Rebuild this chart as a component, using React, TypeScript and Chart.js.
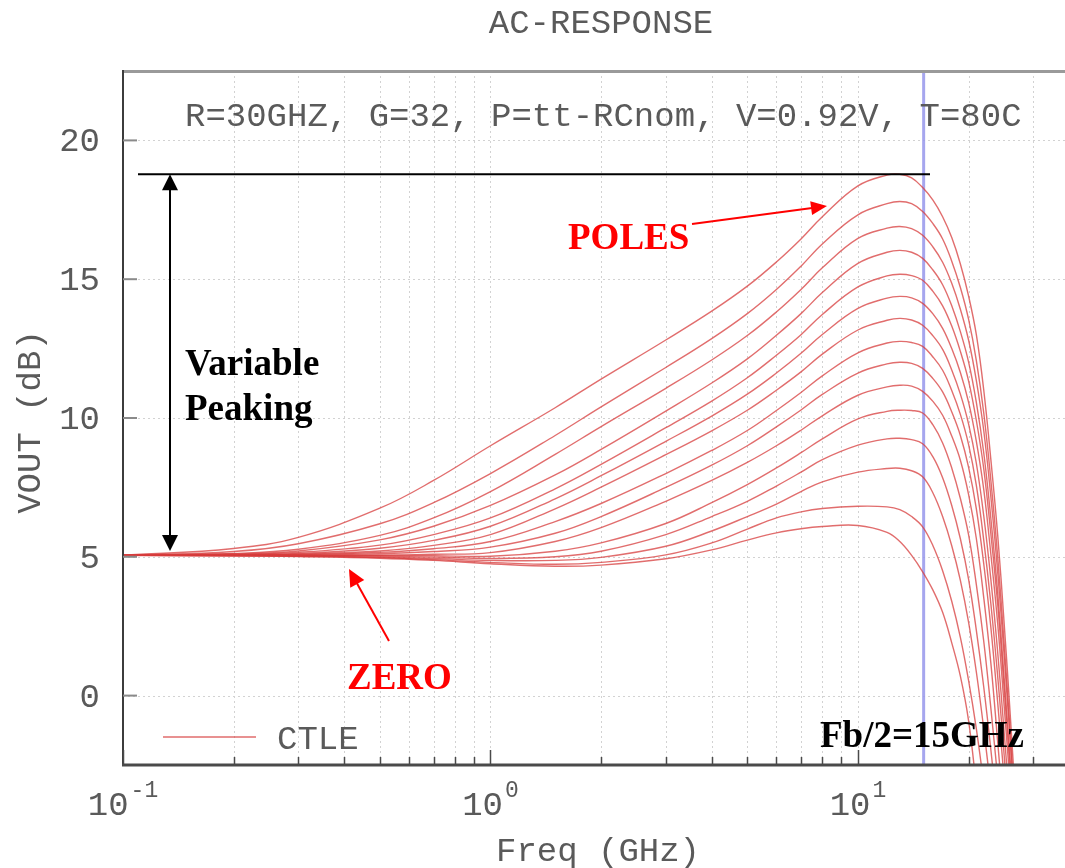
import React, { useEffect, useRef } from "react";
import { Chart, registerables } from "chart.js";

Chart.register(...registerables);

// ---------------- data ----------------
const FREQ_GHZ = [0.1, 0.2, 0.3, 0.5, 0.7, 1, 1.5, 2, 3, 4, 5, 6, 7, 8, 10, 12, 13, 14, 15, 16, 17, 18, 19, 20, 21, 22, 23, 24, 25, 26, 27, 28];

const CTLE_01 = [5.05, 5.3, 5.7, 6.75, 7.75, 9.0, 10.37, 11.4, 12.81, 13.85, 14.75, 15.62, 16.45, 17.25, 18.36, 18.75, 18.78, 18.65, 18.3, 17.85, 17.25, 16.5, 15.55, 14.4, 13.0, 11.0, 8.5, 5.8, 2.6, -0.8, -4.4, -8.2];
const CTLE_02 = [5.05, 5.19, 5.47, 6.19, 6.95, 8.0, 9.37, 10.4, 11.82, 12.86, 13.76, 14.63, 15.47, 16.27, 17.32, 17.72, 17.8, 17.72, 17.44, 17.0, 16.45, 15.65, 14.7, 13.56, 12.07, 10.18, 7.75, 5.03, 1.87, -1.45, -4.94, -8.4];
const CTLE_03 = [5.05, 5.12, 5.27, 5.77, 6.4, 7.35, 8.69, 9.69, 11.07, 12.09, 12.97, 13.82, 14.63, 15.41, 16.47, 16.84, 16.9, 16.82, 16.58, 16.16, 15.61, 14.85, 13.92, 12.81, 11.35, 9.54, 7.16, 4.46, 1.41, -1.78, -5.11, -8.5];
const CTLE_04 = [5.05, 5.1, 5.21, 5.61, 6.1, 6.85, 7.95, 8.87, 10.25, 11.26, 12.13, 12.98, 13.76, 14.52, 15.57, 15.97, 16.04, 15.97, 15.75, 15.33, 14.8, 14.04, 13.11, 12.02, 10.56, 8.74, 6.38, 3.74, 0.64, -2.45, -5.73, -9.0];
const CTLE_05 = [5.05, 5.09, 5.16, 5.42, 5.8, 6.4, 7.45, 8.33, 9.65, 10.61, 11.45, 12.26, 13.0, 13.73, 14.72, 15.12, 15.18, 15.13, 14.96, 14.56, 14.04, 13.31, 12.4, 11.34, 9.91, 8.17, 5.82, 3.3, 0.25, -2.8, -5.93, -9.07];
const CTLE_06 = [5.05, 5.07, 5.12, 5.31, 5.59, 6.1, 7.09, 7.92, 9.16, 10.07, 10.86, 11.62, 12.33, 13.01, 13.95, 14.32, 14.38, 14.33, 14.13, 13.75, 13.23, 12.5, 11.64, 10.57, 9.16, 7.42, 5.09, 2.61, -0.38, -3.36, -6.43, -9.41];
const CTLE_07 = [5.05, 5.07, 5.1, 5.21, 5.41, 5.8, 6.73, 7.51, 8.68, 9.54, 10.28, 11.0, 11.66, 12.3, 13.17, 13.52, 13.59, 13.53, 13.34, 12.96, 12.47, 11.73, 10.86, 9.79, 8.37, 6.47, 4.18, 1.58, -1.34, -4.27, -7.34, -10.3];
const CTLE_08 = [5.05, 5.06, 5.08, 5.16, 5.29, 5.55, 6.27, 6.92, 8.0, 8.83, 9.55, 10.27, 10.92, 11.52, 12.35, 12.7, 12.76, 12.72, 12.58, 12.2, 11.72, 10.99, 10.13, 9.05, 7.57, 5.59, 3.31, 0.71, -2.15, -5.16, -8.16, -11.2];
const CTLE_09 = [5.05, 5.06, 5.07, 5.11, 5.19, 5.35, 5.85, 6.45, 7.5, 8.3, 9.0, 9.68, 10.29, 10.85, 11.62, 11.95, 12.01, 11.97, 11.79, 11.42, 10.94, 10.22, 9.37, 8.23, 6.73, 4.74, 2.46, -0.24, -3.02, -5.87, -8.72, -11.6];
const CTLE_10 = [5.05, 5.05, 5.05, 5.06, 5.09, 5.15, 5.55, 6.05, 7.0, 7.75, 8.4, 9.0, 9.56, 10.08, 10.82, 11.12, 11.18, 11.15, 10.96, 10.6, 10.1, 9.35, 8.48, 7.25, 5.66, 3.52, 1.17, -1.65, -4.46, -7.28, -10.1, -12.9];
const CTLE_11 = [5.05, 5.05, 5.05, 5.05, 5.04, 5.02, 5.2, 5.5, 6.2, 6.95, 7.6, 8.2, 8.75, 9.25, 9.97, 10.24, 10.28, 10.27, 10.18, 9.75, 9.1, 8.2, 7.1, 5.8, 4.0, 1.95, -0.45, -2.95, -5.21, -7.86, -10.5, -13.2];
const CTLE_12 = [5.05, 5.05, 5.04, 5.02, 4.99, 4.94, 5.0, 5.2, 5.8, 6.45, 7.0, 7.55, 8.05, 8.5, 9.02, 9.25, 9.27, 9.22, 9.07, 8.6, 7.85, 6.85, 5.65, 4.2, 2.35, 0.3, -1.95, -4.3, -6.6, -8.9, -11.2, -13.5];
const CTLE_13 = [5.05, 5.04, 5.03, 4.99, 4.94, 4.87, 4.87, 4.98, 5.38, 5.93, 6.45, 6.9, 7.35, 7.7, 8.05, 8.18, 8.19, 8.1, 7.88, 7.3, 6.45, 5.4, 4.15, 2.65, 0.85, -1.2, -3.4, -5.55, -7.6, -9.6, -11.6, -13.6];
const CTLE_14 = [5.05, 5.04, 5.02, 4.97, 4.9, 4.8, 4.73, 4.8, 5.07, 5.5, 6.0, 6.4, 6.62, 6.74, 6.82, 6.8, 6.7, 6.45, 6.08, 5.4, 4.5, 3.4, 2.1, 0.55, -1.2, -3.2, -5.4, -7.5, -9.6, -11.7, -13.8, -15.9];
const CTLE_15 = [5.05, 5.04, 5.01, 4.95, 4.87, 4.75, 4.66, 4.7, 4.93, 5.25, 5.6, 5.86, 6.01, 6.09, 6.13, 5.88, 5.55, 5.05, 4.46, 3.8, 3.0, 1.9, 0.7, -0.9, -3.3, -6.0, -8.8, -11.6, -14.4, -17.2, -20.0, -22.8];

const CURVES = [CTLE_01, CTLE_02, CTLE_03, CTLE_04, CTLE_05, CTLE_06, CTLE_07, CTLE_08, CTLE_09, CTLE_10, CTLE_11, CTLE_12, CTLE_13, CTLE_14, CTLE_15];

const Y_TICKS = [0, 5, 10, 15, 20];
const X_DECADES = [0.1, 1, 10];
const X_DECADE_EXP = ["-1", "0", "1"];
const X_MINOR = [0.2, 0.3, 0.4, 0.5, 0.6, 0.7, 0.8, 0.9, 2, 3, 4, 5, 6, 7, 8, 9, 20, 30];

const X_MIN = 0.1;
const X_MAX = 36.6;
const Y_MIN = -2.5;
const Y_MAX = 22.5;
const FB_HALF_GHZ = 15;
const PEAK_DB = 18.78;

const TITLE = "AC-RESPONSE";
const X_TITLE = "Freq (GHz)";
const Y_TITLE = "VOUT (dB)";
const CONDITIONS = "R=30GHZ, G=32, P=tt-RCnom, V=0.92V, T=80C";
const LEGEND_LABEL = "CTLE";

// ---------------- styles ----------------
const W = 1065;
const H = 868;
const MONO = '"Liberation Mono", "Courier New", monospace';
const SERIF = '"Liberation Serif", "Times New Roman", serif';
const TEXT_GRAY = "#5a5a5a";
const CURVE_COLOR = "rgba(215, 60, 60, 0.75)";

function arrowHead(ctx: CanvasRenderingContext2D, x0: number, y0: number, x1: number, y1: number, len: number, half: number, color: string) {
  const a = Math.atan2(y1 - y0, x1 - x0);
  const bx = x1 - len * Math.cos(a);
  const by = y1 - len * Math.sin(a);
  ctx.save();
  ctx.fillStyle = color;
  ctx.beginPath();
  ctx.moveTo(x1, y1);
  ctx.lineTo(bx + half * Math.sin(a), by - half * Math.cos(a));
  ctx.lineTo(bx - half * Math.sin(a), by + half * Math.cos(a));
  ctx.closePath();
  ctx.fill();
  ctx.restore();
}

function arrowLine(ctx: CanvasRenderingContext2D, x0: number, y0: number, x1: number, y1: number, len: number, half: number, color: string, width: number) {
  const a = Math.atan2(y1 - y0, x1 - x0);
  ctx.save();
  ctx.strokeStyle = color;
  ctx.lineWidth = width;
  ctx.beginPath();
  ctx.moveTo(x0, y0);
  ctx.lineTo(x1 - (len - 1) * Math.cos(a), y1 - (len - 1) * Math.sin(a));
  ctx.stroke();
  ctx.restore();
  arrowHead(ctx, x0, y0, x1, y1, len, half, color);
}

const decor = {
  id: "decor",
  beforeDatasetsDraw(chart: any) {
    const { ctx, chartArea: a, scales } = chart;
    const xs = scales.x;
    const ys = scales.y;
    ctx.save();
    // dotted grid
    ctx.strokeStyle = "#d2d2d2";
    ctx.lineWidth = 1;
    ctx.setLineDash([2, 3]);
    [...X_MINOR, ...X_DECADES].forEach((v) => {
      const px = Math.round(xs.getPixelForValue(v)) + 0.5;
      ctx.beginPath();
      ctx.moveTo(px, a.top);
      ctx.lineTo(px, a.bottom);
      ctx.stroke();
    });
    Y_TICKS.forEach((v) => {
      const py = Math.round(ys.getPixelForValue(v)) + 0.5;
      ctx.beginPath();
      ctx.moveTo(a.left, py);
      ctx.lineTo(a.right, py);
      ctx.stroke();
    });
    ctx.setLineDash([]);
    // Fb/2 marker line
    const bx = xs.getPixelForValue(FB_HALF_GHZ) + 1;
    ctx.strokeStyle = "rgba(150, 150, 235, 0.85)";
    ctx.lineWidth = 3;
    ctx.beginPath();
    ctx.moveTo(bx, a.top);
    ctx.lineTo(bx, a.bottom);
    ctx.stroke();
    ctx.restore();
  },
  afterDatasetsDraw(chart: any) {
    const { ctx, chartArea: a, scales } = chart;
    const xs = scales.x;
    const ys = scales.y;
    ctx.save();

    // frame
    ctx.strokeStyle = "#9a9a9a";
    ctx.lineWidth = 3;
    ctx.beginPath();
    ctx.moveTo(a.left - 1, a.top + 0.5);
    ctx.lineTo(a.right, a.top + 0.5);
    ctx.stroke();
    ctx.strokeStyle = "#3c3c3c";
    ctx.lineWidth = 2;
    ctx.beginPath();
    ctx.moveTo(a.left, a.top - 1);
    ctx.lineTo(a.left, a.bottom + 1);
    ctx.stroke();
    ctx.strokeStyle = "#4a4a4a";
    ctx.lineWidth = 3;
    ctx.beginPath();
    ctx.moveTo(a.left - 1, a.bottom);
    ctx.lineTo(a.right, a.bottom);
    ctx.stroke();

    // y ticks + labels
    ctx.strokeStyle = "#8a8a8a";
    ctx.lineWidth = 2;
    ctx.fillStyle = TEXT_GRAY;
    ctx.font = `34px ${MONO}`;
    ctx.textAlign = "right";
    ctx.textBaseline = "alphabetic";
    Y_TICKS.forEach((v) => {
      const py = ys.getPixelForValue(v);
      ctx.beginPath();
      ctx.moveTo(a.left, py);
      ctx.lineTo(a.left + 14, py);
      ctx.stroke();
      ctx.fillText(String(v), 100, py + 11);
    });

    // x ticks
    ctx.strokeStyle = "#4a4a4a";
    ctx.lineWidth = 1.5;
    X_MINOR.forEach((v) => {
      const px = Math.round(xs.getPixelForValue(v)) + 0.5;
      ctx.beginPath();
      ctx.moveTo(px, a.bottom);
      ctx.lineTo(px, a.bottom - 8);
      ctx.stroke();
    });
    X_DECADES.forEach((v) => {
      const px = Math.round(xs.getPixelForValue(v)) + 0.5;
      ctx.beginPath();
      ctx.moveTo(px, a.bottom);
      ctx.lineTo(px, a.bottom - 15);
      ctx.stroke();
    });

    // x labels 10^n
    ctx.textAlign = "left";
    X_DECADES.forEach((v, i) => {
      const px = xs.getPixelForValue(v);
      ctx.font = `34px ${MONO}`;
      const wb = ctx.measureText("10").width;
      ctx.font = `23px ${MONO}`;
      const ws = ctx.measureText(X_DECADE_EXP[i]).width;
      const start = px - (wb + 2 + ws) / 2;
      ctx.font = `34px ${MONO}`;
      ctx.fillText("10", start, 815);
      ctx.font = `23px ${MONO}`;
      ctx.fillText(X_DECADE_EXP[i], start + wb + 2, 797);
    });

    // titles
    ctx.font = `34px ${MONO}`;
    ctx.textAlign = "center";
    ctx.fillText(TITLE, 601, 33);
    ctx.fillText(X_TITLE, 598, 861);
    ctx.save();
    ctx.translate(40, 422);
    ctx.rotate(-Math.PI / 2);
    ctx.fillText(Y_TITLE, 0, 0);
    ctx.restore();

    // conditions text
    ctx.textAlign = "left";
    ctx.fillText(CONDITIONS, 185, 126);

    // legend
    ctx.strokeStyle = CURVE_COLOR;
    ctx.lineWidth = 1.5;
    ctx.beginPath();
    ctx.moveTo(163, 737);
    ctx.lineTo(256, 737);
    ctx.stroke();
    ctx.fillText(LEGEND_LABEL, 277, 749);

    // peak reference line and variable-peaking arrow
    const peakY = ys.getPixelForValue(PEAK_DB);
    ctx.strokeStyle = "#000";
    ctx.lineWidth = 2;
    ctx.beginPath();
    ctx.moveTo(138, peakY);
    ctx.lineTo(930, peakY);
    ctx.stroke();
    ctx.beginPath();
    ctx.moveTo(170, peakY + 12);
    ctx.lineTo(170, 538);
    ctx.stroke();
    arrowHead(ctx, 170, 300, 170, peakY, 16, 8, "#000");
    arrowHead(ctx, 170, 300, 170, 551, 16, 8, "#000");

    // bold annotations
    ctx.font = `bold 37px ${SERIF}`;
    ctx.fillStyle = "#000";
    ctx.fillText("Variable", 185, 375);
    ctx.fillText("Peaking", 185, 420);
    ctx.fillText("Fb/2=15GHz", 820, 747);
    ctx.fillStyle = "#ff0000";
    ctx.fillText("POLES", 568, 249);
    ctx.fillText("ZERO", 347, 689);

    // red arrows
    arrowLine(ctx, 692, 224, 827, 206, 16, 7, "#ff0000", 2);
    arrowLine(ctx, 389, 641, 349, 569, 17, 8, "#ff0000", 2);

    ctx.restore();
  },
};

export default function App() {
  const ref = useRef<HTMLCanvasElement>(null);
  useEffect(() => {
    const canvas = ref.current;
    if (!canvas) return;
    const chart = new Chart(canvas, {
      type: "line",
      data: {
        datasets: CURVES.map((curve, i) => ({
          label: `${LEGEND_LABEL} ${i + 1}`,
          data: FREQ_GHZ.map((f, j) => ({ x: f, y: curve[j] })),
          borderColor: CURVE_COLOR,
          borderWidth: 1.4,
          pointRadius: 0,
          fill: false,
          tension: 0.4,
        })),
      },
      options: {
        responsive: false,
        animation: false,
        devicePixelRatio: 1,
        events: [],
        elements: { line: { capBezierPoints: false } },
        layout: { padding: { left: 123, top: 71, right: 0, bottom: H - 765 } },
        scales: {
          x: { type: "logarithmic", min: X_MIN, max: X_MAX, display: false },
          y: { type: "linear", min: Y_MIN, max: Y_MAX, display: false },
        },
        plugins: {
          legend: { display: false },
          tooltip: { enabled: false },
          title: { display: false },
        },
      },
      plugins: [decor],
    } as any);
    return () => chart.destroy();
  }, []);

  return (
    <div style={{ position: "fixed", left: 0, top: 0, width: W, height: H, background: "#ffffff" }}>
      <canvas ref={ref} width={W} height={H} style={{ display: "block", width: W, height: H }} />
    </div>
  );
}
